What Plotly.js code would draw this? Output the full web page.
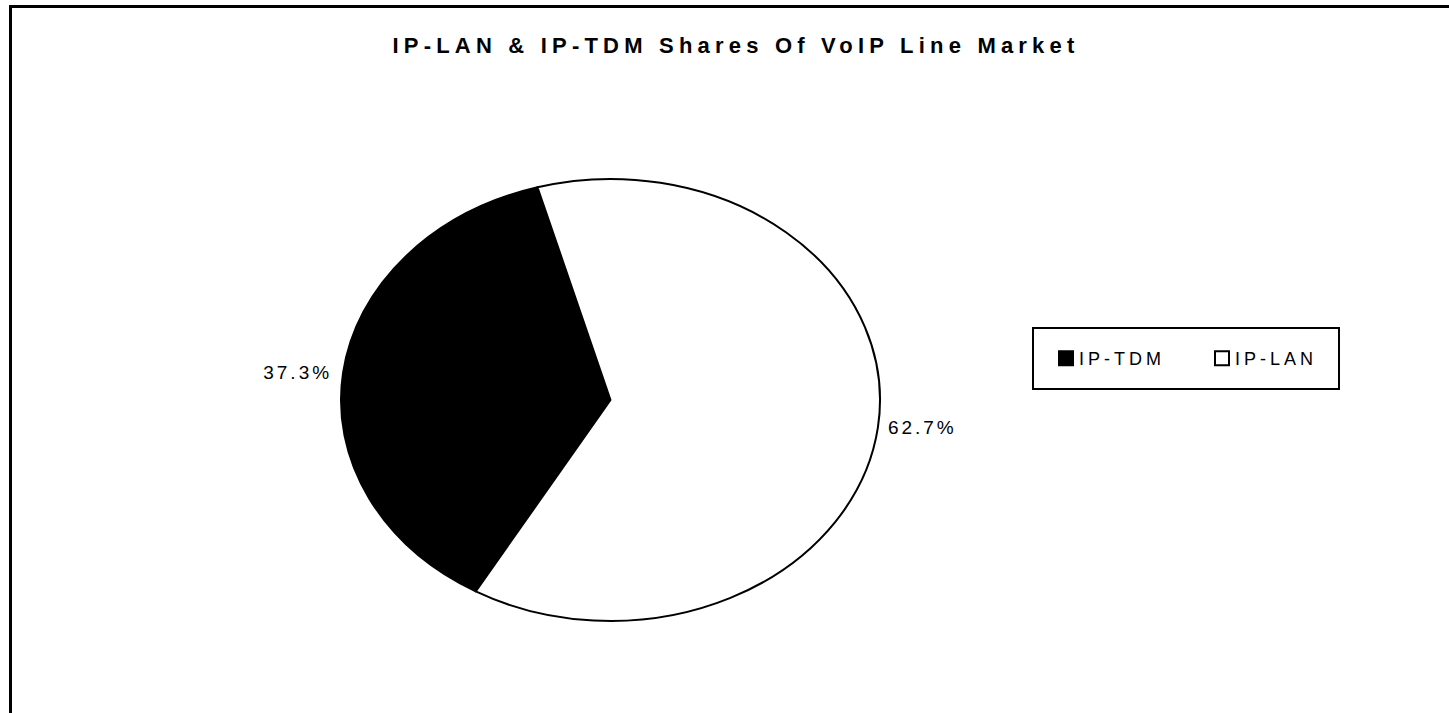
<!DOCTYPE html>
<html><head><meta charset="utf-8">
<script src="https://cdn.plot.ly/plotly-3.0.1.min.js"></script>
<style>html,body{margin:0;padding:0;background:#fff;} #chart{width:1449px;height:713px;}</style>
</head><body><div id="chart"></div>
<script>
const labels = ['IP-TDM', 'IP-LAN'];
const shares = [37.3, 62.7];
const sliceColors = ['#000000', '#ffffff'];
const chartTitle = 'IP-LAN & IP-TDM Shares Of VoIP Line Market';

const W = 1449, H = 713;
const FONT = 'Liberation Sans, Arial, sans-serif';
// ellipse geometry (px)
const pieCx = 610.5, pieCy = 400, pieRy = 221, pieRx = 269.5;
const stretch = pieRx / pieRy;

const trace = {
  type: 'pie', labels: labels, values: shares, sort: false,
  direction: 'clockwise', rotation: 210,
  marker: {colors: sliceColors, line: {color: '#000', width: 2}},
  texttemplate: '%{percent:.1%}', textposition: 'outside',
  outsidetextfont: {family: FONT, size: 19, color: '#000'},
  domain: {x: [(pieCx - pieRy) / W, (pieCx + pieRy) / W],
           y: [1 - (pieCy + pieRy) / H, 1 - (pieCy - pieRy) / H]},
  hoverinfo: 'skip'
};

const layout = {
  width: W, height: H, margin: {l: 0, r: 0, t: 0, b: 0},
  paper_bgcolor: '#fff',
  font: {family: FONT, color: '#000'},
  title: {text: chartTitle, font: {family: FONT, size: 22, weight: 'bold', color: '#000'},
          xref: 'container', yref: 'container',
          x: 736 / W, xanchor: 'center', y: 1 - 45 / H, yanchor: 'middle'},
  showlegend: true,
  legend: {orientation: 'h', x: 1046 / W, xanchor: 'left', y: 1 - 358.5 / H, yanchor: 'middle',
           font: {family: FONT, size: 18, color: '#000'}, bgcolor: 'rgba(0,0,0,0)', borderwidth: 0,
           entrywidth: 111, entrywidthmode: 'pixels'},
  shapes: [
    {type: 'rect', xref: 'paper', yref: 'paper', x0: 1033 / W, x1: 1339 / W, y0: 1 - 389 / H, y1: 1 - 328 / H,
     line: {color: '#000', width: 2}},
    {type: 'line', xref: 'paper', yref: 'paper', x0: 10.5 / W, x1: 10.5 / W, y0: 0, y1: 1 - 5 / H,
     line: {color: '#000', width: 3}},
    {type: 'line', xref: 'paper', yref: 'paper', x0: 9 / W, x1: 1, y0: 1 - 6.5 / H, y1: 1 - 6.5 / H,
     line: {color: '#000', width: 3}}
  ]
};

Plotly.newPlot('chart', [trace], layout, {staticPlot: true}).then(function (gd) {
  const cd = gd.calcdata[0];
  const cx = cd[0].cx, cy = cd[0].cy, r = cd[0].r;
  const s = stretch;
  const rx = r * s;
  gd.querySelectorAll('.pielayer path.surface').forEach(function (p) {
    p.setAttribute('transform', 'translate(' + cx + ',0) scale(' + s + ',1) translate(' + (-cx) + ',0)');
    p.style.vectorEffect = 'non-scaling-stroke';
  });
  const host = gd.getBoundingClientRect();
  gd.querySelectorAll('.pielayer g.slice').forEach(function (g) {
    const pt = g.__data__;
    const t = g.querySelector('g.slicetext');
    if (!t || !pt || !pt.pxmid) return;
    t.querySelectorAll('text').forEach(function (tx) { tx.style.letterSpacing = '3px'; });
    const old = t.getAttribute('transform') || '';
    const bb = t.getBoundingClientRect();
    const yc = bb.top - host.top + bb.height / 2;
    const k = Math.max(0, 1 - Math.pow((yc - cy) / r, 2));
    const edge = rx * Math.sqrt(k);
    let dx;
    if (pt.pxmid[0] < 0) {
      dx = (cx - edge - 14) - (bb.right - host.left - 3);
    } else {
      dx = (cx + edge + 10) - (bb.left - host.left);
    }
    t.setAttribute('transform', 'translate(' + dx + ',0) ' + old);
  });
  gd.querySelectorAll('.gtitle').forEach(function (t) { t.style.letterSpacing = '5.2px'; });
  gd.querySelectorAll('.legend text.legendtext').forEach(function (t) {
    t.style.letterSpacing = '4px';
    t.setAttribute('x', 33);
  });
  gd.querySelectorAll('.legend path.legendpie').forEach(function (p) {
    p.setAttribute('d', 'M7,7H-7V-7H7Z');
  });
});
</script>
</body></html>
